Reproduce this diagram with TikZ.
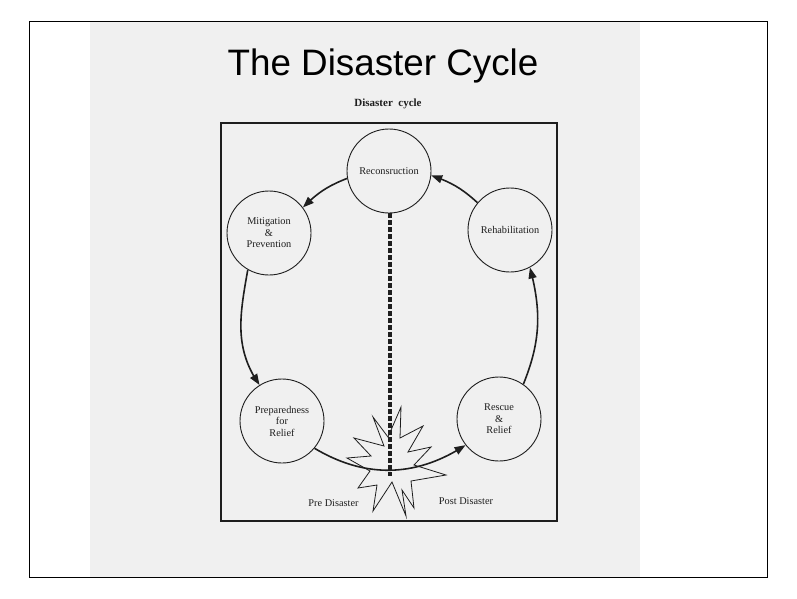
\documentclass[tikz,border=0pt]{standalone}
\usepackage{fontspec}
\setmainfont{Liberation Serif}
\newfontfamily\titlefont{Liberation Sans}
\usetikzlibrary{arrows.meta,bending}
\definecolor{pagegray}{RGB}{240,240,240}
\definecolor{ink}{RGB}{30,30,30}
\begin{document}
\begin{tikzpicture}[x=1pt,y=-1pt,
  stage/.style={circle, draw=ink, line width=0.9pt, minimum size=84pt, inner sep=0pt, align=center, text=ink, font=\fontsize{10.3}{11.5}\selectfont},
  cyc/.style={draw=ink, line width=1.6pt, -{Triangle[length=11pt,width=8pt]}},
  lbl/.style={font=\fontsize{10.3}{12}\selectfont, inner sep=0pt, anchor=base, text=ink}]
\useasboundingbox (0,0) rectangle (797,598);
\fill[white] (0,0) rectangle (797,598);
\fill[pagegray] (90,22) rectangle (640,577);
\draw[line width=0.8pt] (29,21) rectangle (767,577);
% titles
\node[anchor=base, inner sep=0pt, font=\titlefont\fontsize{36.8}{40}\selectfont] (title) at (383,75.7) {The Disaster Cycle};
\node[anchor=base, inner sep=0pt, text=ink, font=\bfseries\fontsize{11}{13}\selectfont] (sub) at (388,106) {Disaster\ \ cycle};
% frame
\draw[draw=ink, line width=1.3pt] (221,123) rectangle (557,521);
% stages
\node[stage] (rec) at (389,171) {Reconsruction};
\node[stage] (mit) at (269,233) {Mitigation\\\&\\Prevention};
\node[stage] (reh) at (510,230) {Rehabilitation};
\node[stage] (pre) at (282,421) {Preparedness\\for\\Relief};
\node[stage] (res) at (499,419) {Rescue\\\&\\Relief};
% star
\draw[draw=ink, line width=0.8pt, line join=miter]
  (401,407) -- (400,438) -- (423,426) -- (408,452) -- (431,447) -- (414,465)
  -- (446,475) -- (411,481) -- (414,508) -- (402,490) -- (406,516) -- (392,482)
  -- (373,511) -- (377,485) -- (358,488) -- (370,471) -- (347,458) -- (371,456)
  -- (354,438) -- (384,446) -- (373,417) -- (388,437) -- cycle;
% dashed divider
\coordinate (dashend) at (390,476);
\draw[draw=ink, line width=3.2pt, dash pattern=on 5pt off 2pt] (rec.south -| dashend) -- (dashend);
% cycle arrows
\draw[cyc] (rec.190) to[bend right=12] (mit.37);
\draw[cyc] (mit.240) to[out=-100, in=125] (pre.122);
\draw[cyc] (pre.-40) to[bend right=32] (res.218);
\draw[cyc] (res.55) to[out=68, in=-75] (reh.-62);
\draw[cyc] (reh.140) to[bend right=12] (rec.-6);
% labels
\node[lbl] (prel) at (333.5,506) {Pre Disaster};
\node[lbl] (postl) at (466,504) {Post Disaster};
\end{tikzpicture}
\end{document}
